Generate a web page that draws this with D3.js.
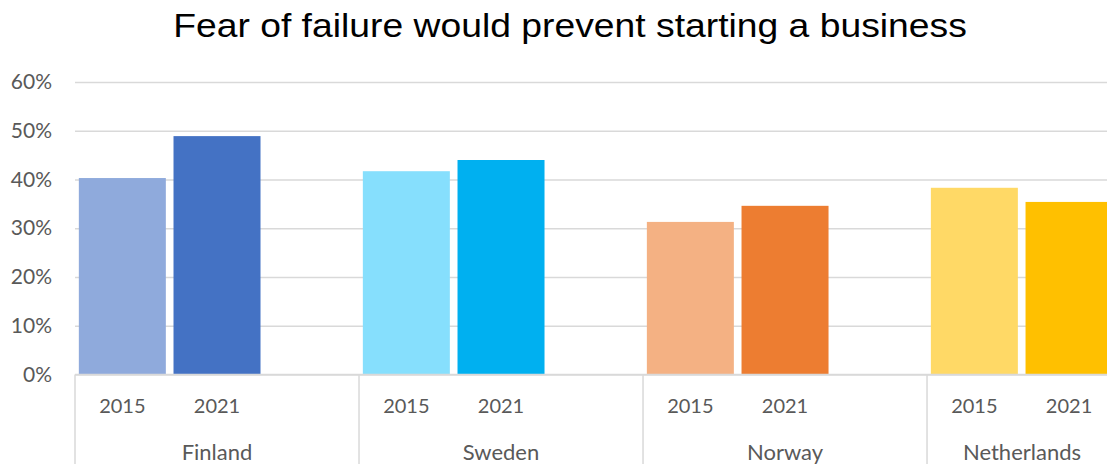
<!DOCTYPE html>
<html>
<head>
<meta charset="utf-8">
<script src="https://cdn.jsdelivr.net/npm/d3@7"></script>
<style>
  html, body { margin: 0; padding: 0; background: #fff; }
  svg { display: block; }
</style>
</head>
<body>
<svg id="chart" width="1107" height="464"></svg>
<script>
// Share of adults for whom fear of failure would prevent starting a business
const countries = ["Finland", "Sweden", "Norway", "Netherlands"];
const years = ["2015", "2021"];
const values2015 = [0.403, 0.417, 0.313, 0.383];
const values2021 = [0.489, 0.440, 0.346, 0.354];
const colors2015 = ["#8faadc", "#86dffd", "#f4b183", "#ffd966"];
const colors2021 = ["#4472c4", "#00b0f0", "#ed7d31", "#ffc000"];
const yTicks = [0, 0.1, 0.2, 0.3, 0.4, 0.5, 0.6];

const W = 1107, H = 464;
const plotLeft = 75, plotTop = 82, plotBottom = 374.5;
const slotsPerGroup = 3;   // two years plus an empty gap slot
const slotWidth = 94.67;

const svg = d3.select("#chart");
const labelFont = "Lato, 'Open Sans', sans-serif";
const gridColor = "#d9d9d9";
const textColor = "#595959";

// slot keys: country|year, with a blank slot after each pair
const slotKeys = [];
countries.forEach(c => {
  years.forEach(y => slotKeys.push(c + "|" + y));
  slotKeys.push(c + "|gap");
});

const x = d3.scaleBand()
  .domain(slotKeys)
  .range([plotLeft, plotLeft + slotKeys.length * slotWidth])
  .paddingInner(0.081)
  .paddingOuter(0.0405);

const y = d3.scaleLinear().domain([0, 0.6]).range([plotBottom, plotTop]);

// title (slightly widened face)
svg.append("text")
  .attr("transform", "translate(570,37) scale(1.13,1)")
  .attr("text-anchor", "middle")
  .attr("font-family", "'Liberation Sans', Arial, sans-serif")
  .attr("font-size", 33)
  .attr("fill", "#000")
  .text("Fear of failure would prevent starting a business");

// horizontal gridlines + y labels
const yAxis = d3.axisLeft(y)
  .tickValues(yTicks)
  .tickFormat(d3.format(".0%"))
  .tickSize(-(W - plotLeft))
  .tickPadding(23);

const gy = svg.append("g")
  .attr("transform", `translate(${plotLeft},0)`)
  .call(yAxis);
gy.select(".domain").remove();
gy.selectAll(".tick line")
  .attr("stroke", gridColor)
  .attr("stroke-width", 1.5);
gy.selectAll(".tick text")
  .attr("font-family", labelFont)
  .attr("font-size", 21)
  .attr("fill", textColor);

// bars
const clip = svg.append("defs").append("clipPath").attr("id", "plotClip");
clip.append("rect").attr("x", 0).attr("y", 0).attr("width", W).attr("height", H);

const barData = [];
countries.forEach((c, i) => {
  barData.push({ key: c + "|" + years[0], value: values2015[i], color: colors2015[i] });
  barData.push({ key: c + "|" + years[1], value: values2021[i], color: colors2021[i] });
});

svg.append("g")
  .attr("clip-path", "url(#plotClip)")
  .selectAll("rect")
  .data(barData)
  .join("rect")
  .attr("x", d => x(d.key))
  .attr("width", x.bandwidth())
  .attr("y", d => y(d.value))
  .attr("height", d => y(0) - y(d.value))
  .attr("fill", d => d.color);

// category axis: baseline and group separators
const axisG = svg.append("g");
axisG.append("line")
  .attr("x1", plotLeft).attr("x2", W)
  .attr("y1", y(0)).attr("y2", y(0))
  .attr("stroke", gridColor).attr("stroke-width", 1.5);

countries.forEach((c, i) => {
  const left = plotLeft + i * slotsPerGroup * slotWidth;
  axisG.append("line")
    .attr("x1", left).attr("x2", left)
    .attr("y1", y(0)).attr("y2", H)
    .attr("stroke", gridColor).attr("stroke-width", 1.5);
});

// year labels
svg.append("g")
  .selectAll("text")
  .data(barData)
  .join("text")
  .attr("x", d => x(d.key) + x.bandwidth() / 2)
  .attr("y", 413)
  .attr("text-anchor", "middle")
  .attr("font-family", labelFont)
  .attr("font-size", 20)
  .attr("fill", textColor)
  .text(d => d.key.split("|")[1]);

// country labels, centred under each group (last group is cut by the frame)
svg.append("g")
  .selectAll("text")
  .data(countries)
  .join("text")
  .attr("x", (c, i) => {
    const left = plotLeft + i * slotsPerGroup * slotWidth;
    const right = Math.min(left + slotsPerGroup * slotWidth, W + 10);
    return (left + right) / 2;
  })
  .attr("y", 460)
  .attr("text-anchor", "middle")
  .attr("font-family", labelFont)
  .attr("font-size", 22)
  .attr("fill", textColor)
  .text(d => d);
</script>
</body>
</html>
